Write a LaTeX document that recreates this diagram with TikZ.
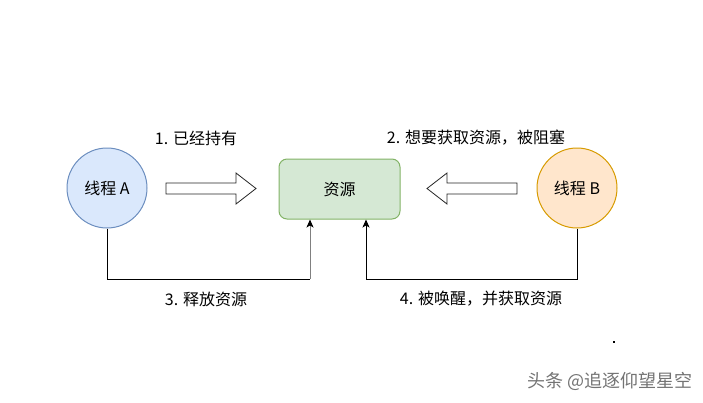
\documentclass[tikz,border=0pt]{standalone}
\usepackage{fontspec}
\setmainfont{Noto Sans CJK SC}
\usetikzlibrary{arrows.meta, positioning, calc}
\definecolor{threadblue}{HTML}{DAE8FC}
\definecolor{threadblueline}{HTML}{6C8EBF}
\definecolor{threadorange}{HTML}{FFE6CC}
\definecolor{threadorangeline}{HTML}{D79B00}
\definecolor{resgreen}{HTML}{D5E8D4}
\definecolor{resgreenline}{HTML}{82B366}
\tikzset{
  thread/.style={circle, minimum size=80pt, inner sep=0pt, line width=1pt, font=\fontsize{16}{18}\selectfont},
  resbox/.style={rectangle, rounded corners=8pt, minimum width=121pt, minimum height=60pt, line width=1pt, fill=resgreen, draw=resgreenline, font=\fontsize{16}{18}\selectfont},
  steplabel/.style={font=\fontsize{16}{18}\selectfont, inner sep=1pt},
  flow/.style={line width=1pt, -{Stealth[length=8pt, width=7pt, inset=2pt, color=black]}},
  blockarrow/.style={line width=0.8pt, fill=white, draw=black!85, line join=miter}
}

\begin{document}
\begin{tikzpicture}[x=1pt, y=-1pt]
  \useasboundingbox (0,0) rectangle (703,402);

  % Threads and the shared resource
  \node[thread, fill=threadblue, draw=threadblueline] (threadA) at (107,188) {线程 A};
  \node[thread, fill=threadorange, draw=threadorangeline] (threadB) at (577,188) {线程 B};
  \node[resbox] (res) at (339.5,189) {资源};

  % Step labels
  \node[steplabel] (lblHold) at (196,138) {1. 已经持有};
  \node[steplabel] (lblWait) at (476,138) {2. 想要获取资源，被阻塞};
  \node[steplabel] (lblRelease) at (206,299) {3. 释放资源};
  \node[steplabel] (lblWake) at (481,299) {4. 被唤醒，并获取资源};

  % Block arrows
  \draw[blockarrow] (166,183) -- (236,183) -- (236,173) -- (256,188.5) -- (236,204) -- (236,194) -- (166,194) -- cycle;
  \draw[blockarrow] (517,183) -- (447,183) -- (447,173) -- (427,188.5) -- (447,204) -- (447,194) -- (517,194) -- cycle;

  % Release and wake-up connectors
  \coordinate (relCorner) at ([xshift=-29.5pt]res.south |- 0,279);
  \draw[line width=1pt] (threadA.south) |- (relCorner);
  \draw[flow, draw=black!50] (relCorner) -- ([xshift=-29.5pt]res.south);
  \draw[flow] (threadB.south) |- ([xshift=26.5pt]res.south |- 0,279) -- ([xshift=26.5pt]res.south);

  % Stray dot and watermark
  \fill (613,341) rectangle (615,343);
  \node[font=\fontsize{18}{20}\selectfont, text=black!55] (mark) at (610,381) {头条 @追逐仰望星空};
\end{tikzpicture}
\end{document}
